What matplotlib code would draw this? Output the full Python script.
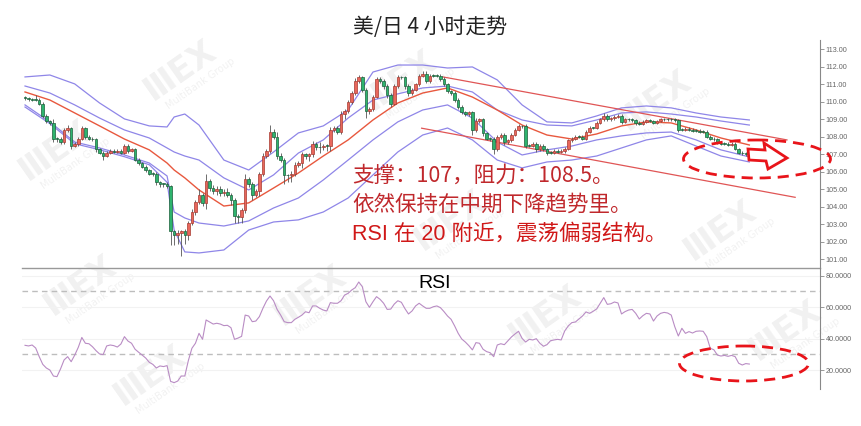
import matplotlib.pyplot as plt
from matplotlib.patches import Ellipse, Polygon
import numpy as np

plt.rcParams['font.family'] = ['Noto Sans CJK SC', 'DejaVu Sans']

# ---- 4h candles (one per bar) ----
first_open = 110.25
close = [
    110.20, 110.15, 110.10, 110.10, 109.90, 109.20, 108.90, 108.80, 107.90, 107.90,
    107.70, 108.40, 108.50, 107.50, 107.60, 107.90, 108.50, 108.00, 107.90, 107.85,
    107.30, 107.10, 106.90, 107.10, 107.20, 107.15, 107.20, 107.10, 107.50, 107.20,
    107.30, 106.70, 106.50, 106.30, 106.10, 105.90, 105.90, 105.40, 105.30, 105.30,
    105.20, 102.60, 102.40, 102.50, 102.60, 102.40, 103.10, 103.70, 104.30, 104.70,
    104.20, 105.50, 105.10, 104.90, 105.00, 104.80, 104.85, 104.70, 104.40, 103.50,
    103.40, 103.80, 105.60, 105.30, 104.70, 104.90, 105.90, 106.90, 107.20, 108.30,
    108.00, 106.90, 106.70, 105.80, 105.80, 105.90, 106.40, 106.50, 107.00, 106.90,
    107.00, 107.60, 107.40, 107.40, 107.50, 107.50, 108.40, 108.50, 108.30, 109.30,
    109.50, 110.00, 110.50, 111.20, 111.40, 110.70, 109.50, 109.60, 110.30, 111.30,
    111.20, 110.90, 110.40, 109.90, 110.90, 111.40, 111.40, 110.90, 110.50, 110.70,
    111.00, 111.50, 111.60, 111.20, 111.50, 111.50, 111.50, 111.30, 111.00, 110.60,
    110.50, 110.10, 109.70, 109.40, 109.30, 109.40, 108.40, 108.90, 109.00, 108.20,
    107.90, 107.90, 107.30, 108.00, 108.10, 107.70, 107.80, 108.10, 108.40, 108.60,
    108.60, 107.50, 107.50, 107.60, 107.30, 107.50, 107.30, 107.10, 107.10, 107.20,
    107.15, 107.20, 107.30, 107.80, 107.90, 108.00, 108.00, 107.90, 108.30, 108.50,
    108.50, 108.80, 109.00, 109.20, 109.00, 109.05, 109.15, 109.20, 108.85, 109.00,
    109.00, 108.95, 108.80, 108.75, 108.85, 108.95, 108.90, 108.80, 108.90, 109.00,
    109.00, 109.00, 109.00, 108.95, 108.40, 108.40, 108.45, 108.40, 108.35, 108.35,
    108.30, 108.30, 108.00, 107.90, 107.85, 107.65, 107.60, 107.60, 107.55, 107.60,
    107.30, 107.10, 107.05, 107.00, 107.05,
]
# wick length above / below the body
up_wick = [
    0.08, 0.08, 0.08, 0.30, 0.10, 0.10, 0.08, 0.08, 0.20, 0.10,
    0.08, 0.10, 0.15, 0.08, 0.08, 0.10, 0.10, 0.08, 0.08, 0.08,
    0.08, 0.08, 0.08, 0.10, 0.08, 0.08, 0.08, 0.08, 0.10, 0.08,
    0.08, 0.08, 0.08, 0.08, 0.08, 0.08, 0.10, 0.08, 0.08, 0.08,
    0.10, 0.05, 0.10, 0.15, 0.10, 0.15, 0.10, 0.20, 0.10, 0.30,
    0.10, 0.40, 0.10, 0.15, 0.20, 0.20, 0.15, 0.20, 0.10, 0.10,
    0.10, 0.15, 0.30, 0.10, 0.10, 0.10, 0.10, 0.15, 0.10, 0.40,
    0.15, 0.30, 0.15, 0.10, 0.10, 0.15, 0.15, 0.10, 0.15, 0.10,
    0.10, 0.15, 0.10, 0.30, 0.10, 0.10, 0.15, 0.10, 0.10, 0.15,
    0.10, 0.10, 0.10, 0.15, 0.15, 0.10, 0.10, 0.10, 0.10, 0.10,
    0.10, 0.10, 0.10, 0.10, 0.10, 0.15, 0.10, 0.10, 0.10, 0.10,
    0.10, 0.10, 0.15, 0.15, 0.10, 0.10, 0.10, 0.10, 0.10, 0.10,
    0.10, 0.10, 0.10, 0.10, 0.10, 0.10, 0.10, 0.15, 0.10, 0.10,
    0.08, 0.08, 0.10, 0.10, 0.10, 0.10, 0.10, 0.10, 0.10, 0.15,
    0.10, 0.15, 0.08, 0.10, 0.08, 0.10, 0.08, 0.08, 0.08, 0.08,
    0.08, 0.08, 0.10, 0.10, 0.08, 0.08, 0.08, 0.08, 0.10, 0.10,
    0.08, 0.10, 0.10, 0.15, 0.08, 0.08, 0.10, 0.08, 0.08, 0.08,
    0.08, 0.08, 0.08, 0.08, 0.08, 0.08, 0.08, 0.08, 0.08, 0.08,
    0.08, 0.08, 0.08, 0.08, 0.05, 0.08, 0.08, 0.08, 0.08, 0.08,
    0.08, 0.08, 0.08, 0.08, 0.08, 0.08, 0.08, 0.08, 0.08, 0.08,
    0.08, 0.08, 0.08, 0.08, 0.08,
]
dn_wick = [
    0.08, 0.08, 0.08, 0.08, 0.10, 0.10, 0.10, 0.10, 0.20, 0.20,
    0.10, 0.10, 0.10, 0.20, 0.10, 0.10, 0.08, 0.10, 0.08, 0.10,
    0.15, 0.10, 0.20, 0.08, 0.08, 0.08, 0.08, 0.10, 0.08, 0.10,
    0.08, 0.10, 0.10, 0.10, 0.10, 0.10, 0.15, 0.15, 0.15, 0.15,
    0.10, 0.80, 0.60, 0.50, 1.30, 0.50, 0.30, 0.15, 0.15, 0.15,
    0.15, 0.30, 0.20, 0.15, 0.20, 0.20, 0.20, 0.15, 0.30, 0.40,
    0.30, 0.30, 0.15, 0.15, 0.30, 0.15, 0.30, 0.15, 0.10, 0.15,
    0.15, 0.15, 0.15, 0.50, 0.40, 0.40, 0.15, 0.15, 0.30, 0.15,
    0.30, 0.15, 0.15, 0.30, 0.15, 0.30, 0.30, 0.15, 0.15, 0.15,
    0.30, 0.15, 0.10, 0.10, 0.15, 0.15, 0.40, 0.20, 0.15, 0.10,
    0.10, 0.15, 0.20, 0.20, 0.10, 0.10, 0.10, 0.15, 0.15, 0.10,
    0.10, 0.10, 0.10, 0.10, 0.10, 0.10, 0.10, 0.10, 0.10, 0.10,
    0.10, 0.10, 0.10, 0.10, 0.10, 0.10, 0.30, 0.10, 0.10, 0.15,
    0.10, 0.15, 0.30, 0.10, 0.10, 0.15, 0.10, 0.10, 0.08, 0.08,
    0.08, 0.15, 0.10, 0.10, 0.15, 0.10, 0.10, 0.15, 0.10, 0.10,
    0.10, 0.10, 0.10, 0.08, 0.08, 0.08, 0.08, 0.08, 0.08, 0.08,
    0.08, 0.08, 0.08, 0.08, 0.08, 0.08, 0.08, 0.08, 0.10, 0.08,
    0.08, 0.08, 0.10, 0.08, 0.08, 0.08, 0.08, 0.08, 0.08, 0.08,
    0.08, 0.08, 0.08, 0.08, 0.10, 0.08, 0.08, 0.08, 0.08, 0.08,
    0.08, 0.08, 0.08, 0.08, 0.08, 0.08, 0.08, 0.08, 0.08, 0.08,
    0.08, 0.08, 0.08, 0.08, 0.10,
]

# ---- band / average lines, read at these bars ----
band_idx = [0, 7, 14, 21, 28, 35, 40, 42, 45, 49, 56, 63, 70, 77, 84, 91,
            98, 105, 112, 119, 126, 133, 140, 147, 154, 161, 168, 175, 182, 189, 196, 204]
outer_up = [111.42, 111.53, 111.02, 109.93, 109.02, 108.62, 108.56, 109.13, 109.30, 108.67,
            106.67, 106.10, 107.13, 108.22, 108.62, 109.53, 111.70, 112.10, 112.10, 111.93,
            111.99, 111.25, 109.82, 108.85, 108.79, 109.19, 109.65, 109.76, 109.65, 109.36,
            109.13, 108.96]
inner_up = [110.90, 110.50, 109.82, 109.07, 108.39, 107.93, 107.36, 107.13, 106.90, 106.67,
            105.65, 104.96, 105.82, 107.07, 107.82, 109.07, 110.10, 110.45, 110.79, 110.90,
            110.56, 109.53, 108.96, 108.67, 108.62, 108.96, 109.36, 109.42, 109.30, 109.13,
            108.90, 108.67]
ma_mid = [110.56, 110.10, 109.36, 108.62, 107.87, 107.25, 106.50, 106.10, 105.65, 104.96,
          104.04, 104.22, 105.07, 105.93, 106.90, 107.82, 108.96, 109.93, 110.50, 110.79,
          110.27, 109.53, 108.67, 108.10, 107.87, 108.16, 108.62, 108.85, 108.79, 108.39,
          107.93, 107.53]
inner_lo = [109.82, 108.85, 107.70, 107.36, 106.96, 106.50, 105.76, 103.70, 103.36, 103.07,
            102.90, 103.19, 103.93, 104.50, 105.53, 106.67, 107.82, 108.85, 109.53, 109.82,
            109.07, 107.70, 106.96, 107.25, 107.47, 107.82, 108.05, 108.22, 108.27, 107.82,
            107.25, 106.85]
outer_lo = [109.70, 108.75, 107.60, 107.26, 106.86, 106.40, 105.40, 102.67, 101.42, 101.36,
            101.53, 102.67, 103.13, 103.25, 103.70, 104.50, 105.82, 107.13, 108.10, 108.50,
            107.82, 106.67, 106.22, 106.56, 106.67, 106.90, 107.36, 107.82, 108.05, 107.47,
            106.90, 106.56]

# ---- RSI, one value per bar ----
rsi = [
    35.8, 35.4, 36.0, 34.1, 28.6, 23.7, 21.4, 20.1, 16.3, 15.9,
    20.8, 26.5, 28.6, 25.4, 29.6, 34.5, 40.8, 37.1, 36.8, 34.9,
    32.4, 30.3, 29.9, 35.4, 36.0, 35.6, 34.7, 36.6, 41.3, 38.5,
    37.1, 33.3, 31.4, 29.6, 27.7, 25.0, 23.7, 21.4, 22.7, 22.3,
    22.9, 12.9, 12.1, 13.1, 16.3, 16.3, 26.1, 33.9, 37.1, 43.4,
    39.6, 51.9, 50.6, 49.3, 49.8, 49.3, 48.3, 48.5, 47.0, 39.6,
    40.4, 41.5, 55.0, 54.4, 50.8, 51.2, 54.0, 59.3, 63.9, 67.1,
    64.1, 58.6, 55.0, 50.8, 50.2, 50.2, 52.3, 53.6, 55.0, 57.1,
    56.5, 60.8, 60.8, 59.3, 58.2, 57.6, 62.9, 62.5, 62.5, 64.1,
    67.7, 68.8, 70.9, 72.4, 76.0, 73.0, 63.5, 59.9, 63.5, 66.7,
    65.0, 62.5, 58.6, 58.8, 62.0, 64.1, 63.1, 59.1, 55.7, 57.6,
    60.8, 62.5, 60.8, 59.3, 59.3, 60.3, 60.8, 59.7, 57.2, 54.4,
    52.3, 48.1, 43.4, 39.8, 37.9, 35.6, 32.9, 37.5, 37.1, 33.3,
    31.8, 31.1, 28.6, 36.0, 36.8, 36.2, 38.7, 41.1, 43.0, 44.7,
    40.2, 37.9, 39.6, 39.2, 40.0, 37.1, 35.2, 36.2, 38.7, 39.2,
    39.6, 39.2, 44.9, 48.1, 50.2, 50.6, 52.5, 54.4, 57.0, 56.1,
    57.4, 58.9, 62.5, 66.1, 61.8, 62.2, 63.3, 62.7, 55.7, 57.2,
    58.2, 58.6, 56.1, 52.5, 54.6, 56.1, 55.7, 51.2, 54.4, 56.1,
    56.7, 56.3, 55.0, 47.6, 41.7, 46.6, 43.4, 44.5, 43.6, 44.7,
    44.9, 44.7, 41.3, 33.9, 33.0, 29.6, 29.0, 29.4, 28.8, 29.4,
    28.6, 24.4, 23.3, 24.2, 23.9,
]

price_ticks = [101, 102, 103, 104, 105, 106, 107, 108, 109, 110, 111, 112, 113]
rsi_ticks = [20, 40, 60, 80]
rsi_levels = [30, 70]

title = '美/日 4 小时走势'
notes = ['支撑：107，阻力：108.5。', '依然保持在中期下降趋势里。', 'RSI 在 20 附近，震荡偏弱结构。']

# watermark centres (pixels), only the ones fully inside the picture
marks = [(55, 150), (180, 70), (80, 285), (150, 375), (310, 295), (400, 80), (450, 220),
         (545, 315), (655, 100), (720, 230), (785, 330)]

# ---- figure ----
W, H = 862, 426
fig = plt.figure(figsize=(W / 100, H / 100), dpi=100)

bg = fig.add_axes([0, 0, 1, 1])
bg.set_xlim(0, W)
bg.set_ylim(H, 0)
bg.axis('off')
ang = np.deg2rad(35)
for mx, my in marks:
    bg.text(mx, my, 'ⅢEX', rotation=35, ha='center', va='center', fontsize=24,
            fontweight='bold', color='#000000', alpha=0.06, family='DejaVu Sans',
            rotation_mode='anchor')
    bg.text(mx + 22 * np.sin(ang) + 8, my + 22 * np.cos(ang) - 4, 'MultiBank Group',
            rotation=35, ha='center', va='center', fontsize=7, color='#000000', alpha=0.06,
            family='DejaVu Sans', rotation_mode='anchor')

left, right = 22, 820
ax1 = fig.add_axes([left / W, 1 - 268 / H, (right - left) / W, (268 - 40) / H])
ax2 = fig.add_axes([left / W, 1 - 389 / H, (right - left) / W, (389 - 268) / H])

n = len(close)
x = np.arange(n)
c = np.array(close)
o = np.r_[first_open, c[:-1]]
top = np.maximum(o, c)
bot = np.minimum(o, c)
hi = top + np.array(up_wick)
lo = bot - np.array(dn_wick)
rise = c > o
body = np.maximum(top - bot, 0.04)

purple = '#8f86e8'
ax1.plot(band_idx, outer_up, color=purple, lw=0.9, zorder=2)
ax1.plot(band_idx, inner_up, color=purple, lw=0.9, zorder=2)
ax1.plot(band_idx, inner_lo, color=purple, lw=0.9, zorder=2)
ax1.plot(band_idx, outer_lo, color=purple, lw=0.9, zorder=2)
ax1.plot(band_idx, ma_mid, color='#e8583e', lw=1.0, zorder=2)

ax1.vlines(x, lo, hi, color='#555555', lw=0.6, zorder=3)
ax1.bar(x[rise], body[rise], bottom=bot[rise], width=0.72, color='#e8675c',
        edgecolor='#a63a30', lw=0.5, zorder=4)
ax1.bar(x[~rise], body[~rise], bottom=bot[~rise], width=0.72, color='#2eb46e',
        edgecolor='#1b5e3a', lw=0.5, zorder=4)

# hand-drawn channel
ax1.plot([117.7, 214.6], [111.42, 107.82], color='#e05555', lw=0.9, zorder=2)
ax1.plot([111.7, 216.9], [108.49, 104.54], color='#e05555', lw=0.9, zorder=2)

xlim = (-0.85, 223.9)
ax1.set_xlim(*xlim)
ax1.set_ylim(100.5, 113.53)
ax2.set_xlim(*xlim)
ax2.set_ylim(8.06, 84.89)

ax2.plot(x, rsi, color='#b98cc4', lw=0.8, zorder=3)
for lv in rsi_levels:
    ax2.axhline(lv, color='#bdbdbd', lw=1.0, ls=(0, (4, 3)), zorder=1)
for lv in rsi_ticks:
    ax2.axhline(lv, color='#f2f2f2', lw=0.8, zorder=0)

for ax, ticks, fmt in ((ax1, price_ticks, '{:.2f}'), (ax2, rsi_ticks, '{:.4f}')):
    ax.set_xticks([])
    ax.yaxis.tick_right()
    ax.set_yticks(ticks)
    ax.set_yticklabels([fmt.format(t) for t in ticks], fontsize=5.2, color='#666666',
                       family='Liberation Sans')
    ax.tick_params(axis='y', length=3, width=0.6, color='#888888', pad=1)
    for s in ('left', 'top', 'bottom'):
        ax.spines[s].set_visible(False)
    ax.spines['right'].set_color('#888888')
    ax.spines['right'].set_linewidth(0.8)
    ax.patch.set_alpha(0)
ax1.spines['bottom'].set_visible(True)
ax1.spines['bottom'].set_color('#999999')
ax1.spines['bottom'].set_linewidth(1.0)

# ---- overlay in pixel coordinates ----
ov = fig.add_axes([0, 0, 1, 1])
ov.set_xlim(0, W)
ov.set_ylim(H, 0)
ov.axis('off')
ov.patch.set_alpha(0)

ov.text(430, 27, title, ha='center', va='center', fontsize=15, color='#222222')
ov.text(418, 283, 'RSI', ha='left', va='center', fontsize=14, color='black',
        family=['Liberation Sans', 'DejaVu Sans'])

ov.text(352, 176, notes[0], ha='left', va='center', fontsize=15.5, color='#c0282c')
ov.text(352, 205, notes[1], ha='left', va='center', fontsize=15.5, color='#c0282c')
ov.text(352, 234, notes[2], ha='left', va='center', fontsize=15.5, color='#d01818',
        family=['Liberation Sans', 'Noto Sans CJK SC'])

for cx, cy, ew, eh in ((757, 159, 147, 38), (744, 363.5, 129, 35)):
    ov.add_patch(Ellipse((cx, cy), ew, eh, fill=False, edgecolor='#e8141a', lw=2.0,
                         ls=(0, (4, 2.5)), zorder=6))

arrow = [(748, 149), (765, 150), (764, 143), (787, 158), (768, 169), (766, 161), (749, 160)]
ov.add_patch(Polygon(arrow, closed=True, facecolor='white', edgecolor='#e8141a', lw=2.0,
                     joinstyle='miter', zorder=7))

fig.savefig('out.png', dpi=100)
